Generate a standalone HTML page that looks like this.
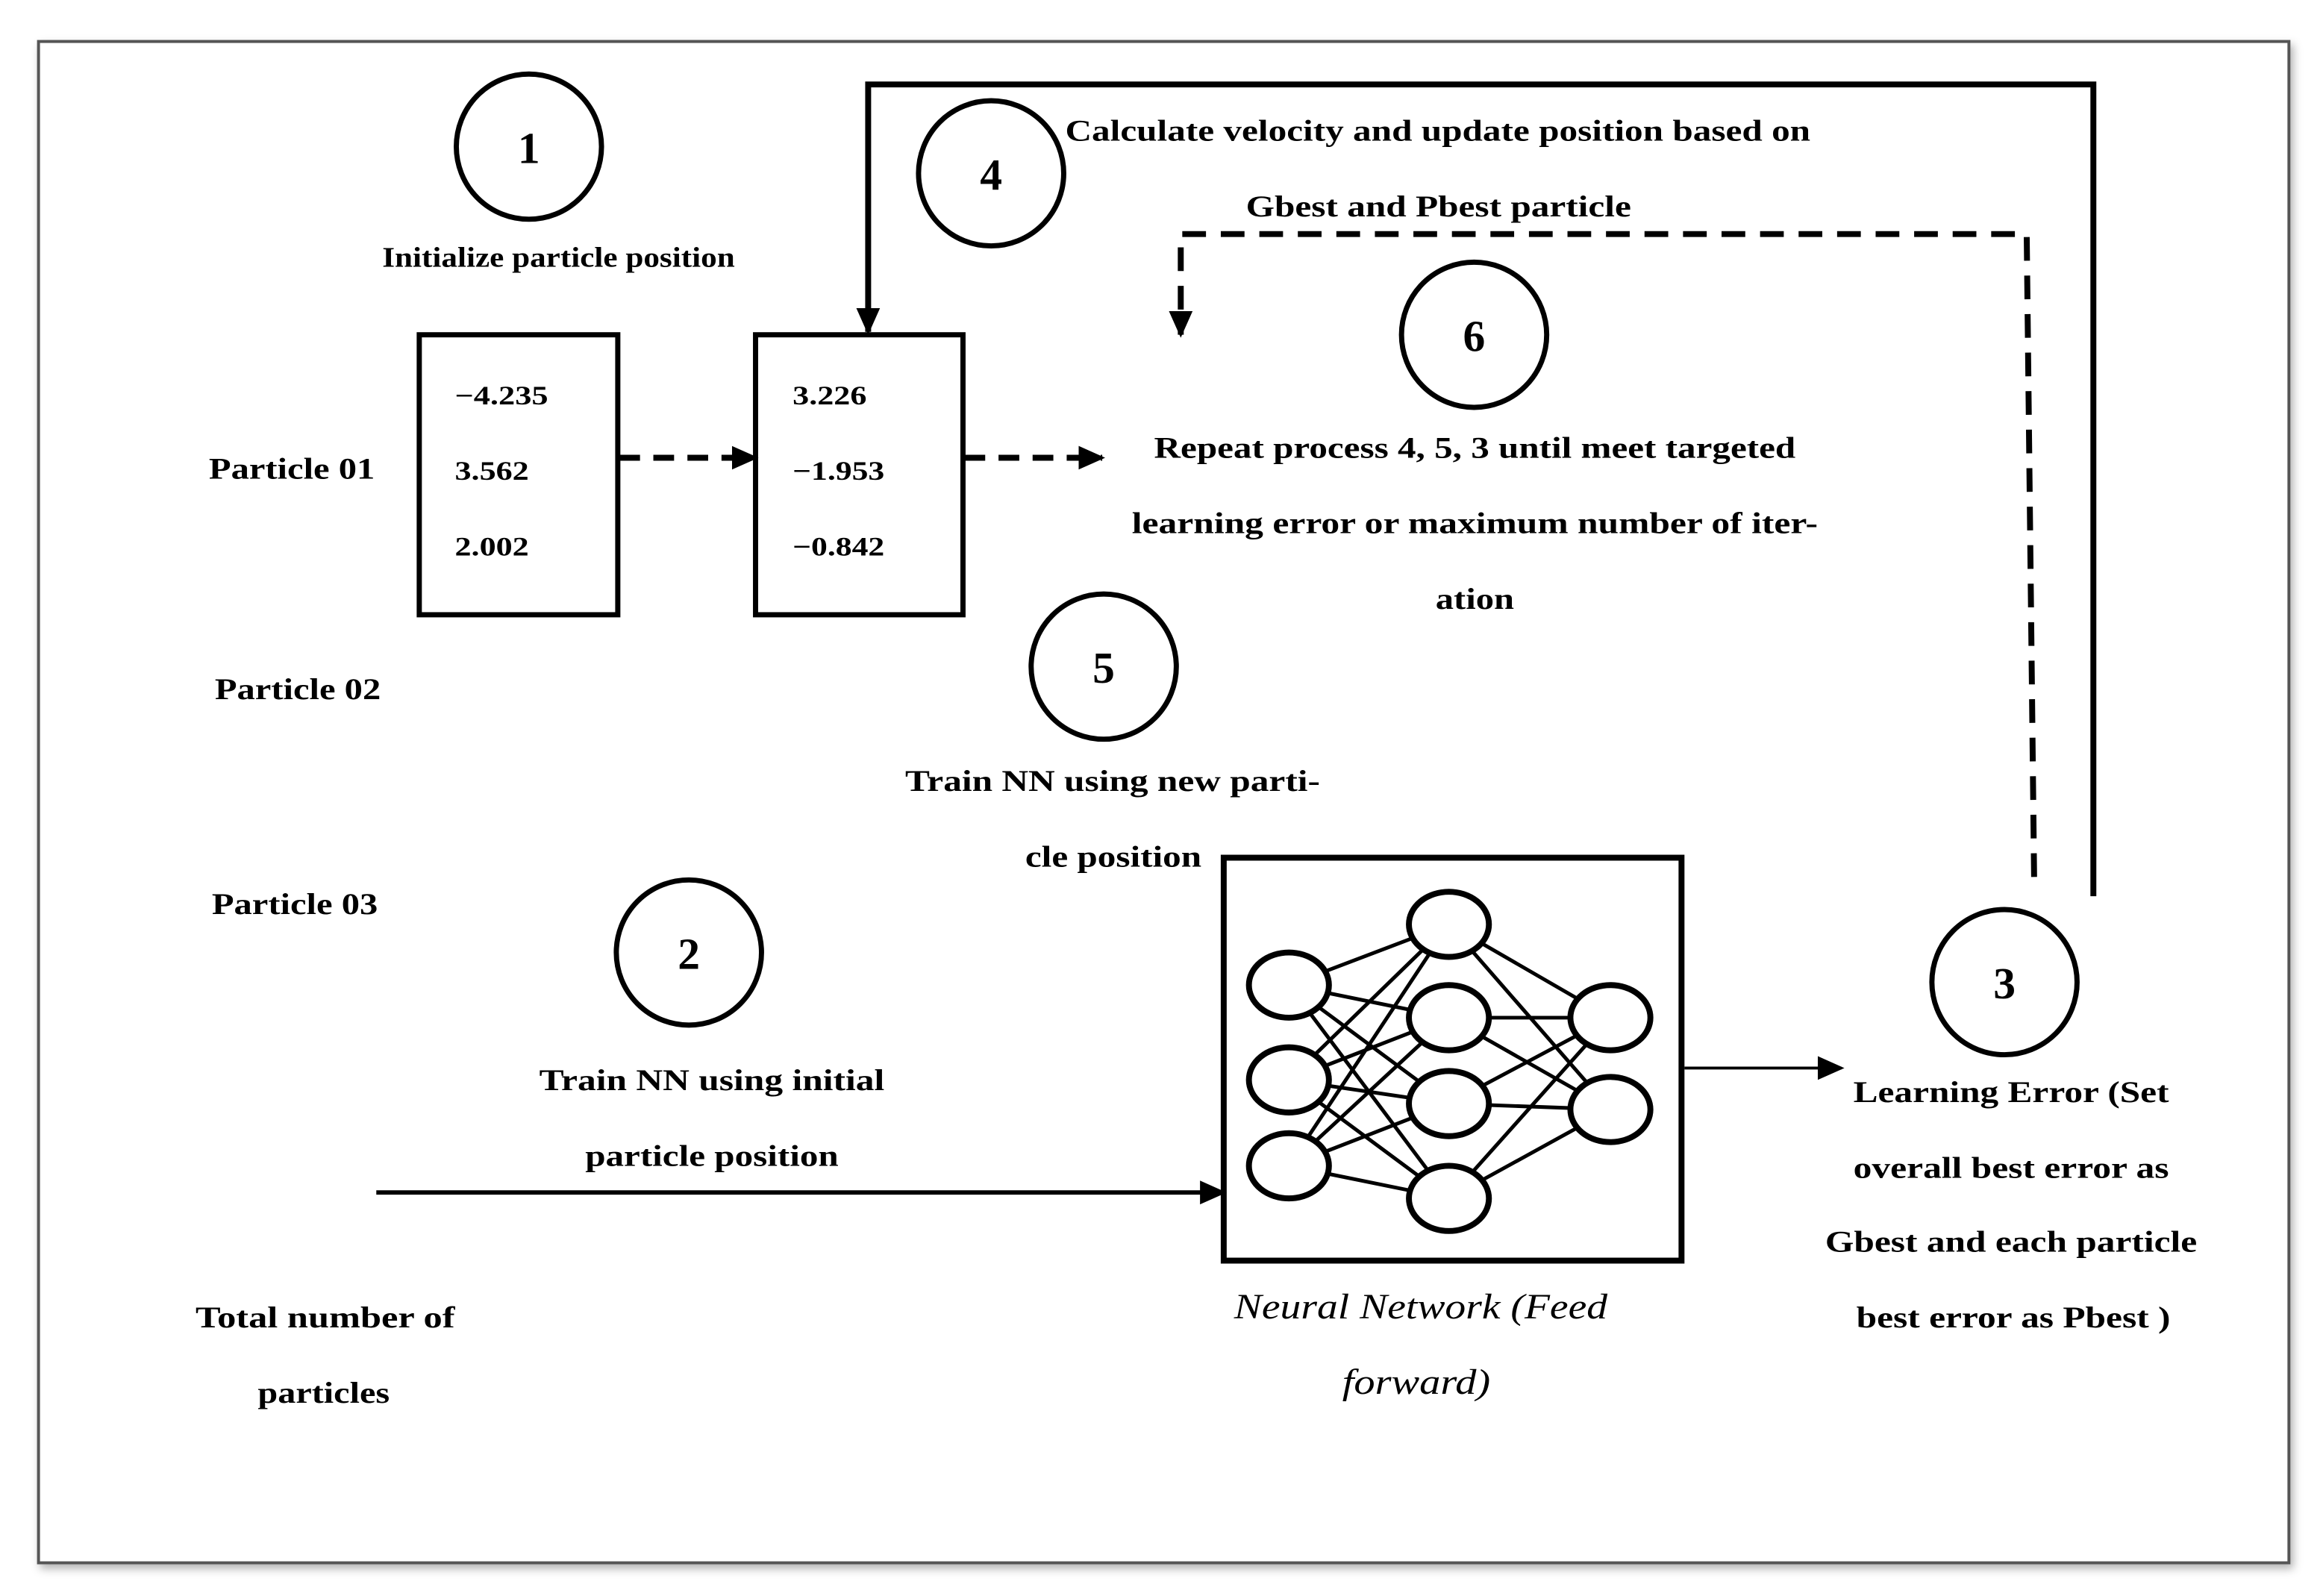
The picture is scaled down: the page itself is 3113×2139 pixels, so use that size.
<!DOCTYPE html>
<html><head><meta charset="utf-8"><style>
html,body{margin:0;padding:0;background:#fff}
svg{display:block}
text{font-family:"Liberation Serif",serif;font-weight:bold;fill:#000}
</style></head><body>
<svg width="3113" height="2139" viewBox="0 0 1568 1077.4" preserveAspectRatio="none" xmlns="http://www.w3.org/2000/svg">
<defs>
<marker id="ah2" markerWidth="18" markerHeight="18" refX="16" refY="9" orient="auto" markerUnits="userSpaceOnUse" viewBox="0 0 18 18"><path d="M0,1 L18,9 L0,17 z" fill="#000"/></marker>
<filter id="sh"><feDropShadow dx="2" dy="3" stdDeviation="3" flood-color="#000" flood-opacity="0.3"/></filter>
</defs>
<rect x="26" y="28" width="1519" height="1027" fill="#fff" stroke="#555" stroke-width="2" filter="url(#sh)"/>

<g fill="none" stroke="#000" stroke-width="3.5">
<circle cx="357" cy="99" r="49"/>
<circle cx="669" cy="117" r="49"/>
<circle cx="995" cy="226" r="49"/>
<circle cx="745" cy="450" r="49"/>
<circle cx="465" cy="643" r="49"/>
<circle cx="1353" cy="663" r="49"/>
<rect x="283" y="226" width="134" height="189"/>
<rect x="510" y="226" width="140" height="189"/>
<rect x="826" y="579" width="309" height="272" stroke-width="4"/>
</g>
<g font-size="30" text-anchor="middle">
<text x="357" y="110">1</text><text x="669" y="128">4</text><text x="995" y="237">6</text>
<text x="745" y="461">5</text><text x="465" y="654">2</text><text x="1353" y="674">3</text>
</g>

<g font-size="20" lengthAdjust="spacingAndGlyphs">
<text x="258" y="180" font-size="19" textLength="238" lengthAdjust="spacingAndGlyphs">Initialize particle position</text>
<text x="719" y="95" textLength="503" lengthAdjust="spacingAndGlyphs">Calculate velocity and update position based on</text>
<text x="841" y="146" textLength="260" lengthAdjust="spacingAndGlyphs">Gbest and Pbest particle</text>
<text x="141" y="323" textLength="112" lengthAdjust="spacingAndGlyphs">Particle 01</text>
<text x="145" y="472" textLength="112" lengthAdjust="spacingAndGlyphs">Particle 02</text>
<text x="143" y="617" textLength="112" lengthAdjust="spacingAndGlyphs">Particle 03</text>
<text x="779" y="309" textLength="433" lengthAdjust="spacingAndGlyphs">Repeat process 4, 5, 3 until meet targeted</text>
<text x="764" y="360" textLength="463" lengthAdjust="spacingAndGlyphs">learning error or maximum number of iter-</text>
<text x="969" y="411" textLength="53" lengthAdjust="spacingAndGlyphs">ation</text>
<text x="611" y="534" textLength="280" lengthAdjust="spacingAndGlyphs">Train NN using new parti-</text>
<text x="692" y="585" textLength="119" lengthAdjust="spacingAndGlyphs">cle position</text>
<text x="364" y="736" textLength="233" lengthAdjust="spacingAndGlyphs">Train NN using initial</text>
<text x="395" y="787" textLength="171" lengthAdjust="spacingAndGlyphs">particle position</text>
<text x="132" y="896" textLength="175" lengthAdjust="spacingAndGlyphs">Total number of</text>
<text x="174" y="947" textLength="89" lengthAdjust="spacingAndGlyphs">particles</text>
<text x="1251" y="744" textLength="213" lengthAdjust="spacingAndGlyphs">Learning Error (Set</text>
<text x="1251" y="795" textLength="213" lengthAdjust="spacingAndGlyphs">overall best error as</text>
<text x="1232" y="845" textLength="251" lengthAdjust="spacingAndGlyphs">Gbest and each particle</text>
<text x="1253" y="896" textLength="212" lengthAdjust="spacingAndGlyphs">best error as Pbest )</text>
</g>
<g font-size="18">
<text x="307" y="273" textLength="63" lengthAdjust="spacingAndGlyphs">−4.235</text><text x="307" y="324" textLength="50" lengthAdjust="spacingAndGlyphs">3.562</text><text x="307" y="375" textLength="50" lengthAdjust="spacingAndGlyphs">2.002</text>
<text x="535" y="273" textLength="50" lengthAdjust="spacingAndGlyphs">3.226</text><text x="535" y="324" textLength="62" lengthAdjust="spacingAndGlyphs">−1.953</text><text x="535" y="375" textLength="62" lengthAdjust="spacingAndGlyphs">−0.842</text>
</g>
<g font-size="24" font-style="italic">
<text x="833" y="890" style="font-weight:normal" textLength="252" lengthAdjust="spacingAndGlyphs">Neural Network (Feed</text>
<text x="906" y="941" style="font-weight:normal" textLength="100" lengthAdjust="spacingAndGlyphs">forward)</text>
</g>

<g fill="none" stroke="#000">
<line x1="418" y1="309" x2="510" y2="309" stroke-width="4" stroke-dasharray="14 9" marker-end="url(#ah2)"/>
<line x1="651" y1="309" x2="744" y2="309" stroke-width="4" stroke-dasharray="14 9" marker-end="url(#ah2)"/>
<line x1="254" y1="805" x2="826" y2="805" stroke-width="3" marker-end="url(#ah2)"/>
<line x1="1137" y1="721" x2="1243" y2="721" stroke-width="2" marker-end="url(#ah2)"/>
<polyline points="1413,605 1413,57 586,57 586,224" stroke-width="4" marker-end="url(#ah2)"/>
<polyline points="1373,592 1368,158 797,158 797,226" stroke-width="4" stroke-dasharray="16 10" marker-end="url(#ah2)"/>
</g>

<g stroke="#000" stroke-width="2.5">
<line x1="870" y1="665" x2="978" y2="624"/><line x1="870" y1="665" x2="978" y2="687"/><line x1="870" y1="665" x2="978" y2="745"/><line x1="870" y1="665" x2="978" y2="809"/>
<line x1="870" y1="729" x2="978" y2="624"/><line x1="870" y1="729" x2="978" y2="687"/><line x1="870" y1="729" x2="978" y2="745"/><line x1="870" y1="729" x2="978" y2="809"/>
<line x1="870" y1="787" x2="978" y2="624"/><line x1="870" y1="787" x2="978" y2="687"/><line x1="870" y1="787" x2="978" y2="745"/><line x1="870" y1="787" x2="978" y2="809"/>
<line x1="978" y1="624" x2="1087" y2="687"/><line x1="978" y1="624" x2="1087" y2="749"/>
<line x1="978" y1="687" x2="1087" y2="687"/><line x1="978" y1="687" x2="1087" y2="749"/>
<line x1="978" y1="745" x2="1087" y2="687"/><line x1="978" y1="745" x2="1087" y2="749"/>
<line x1="978" y1="809" x2="1087" y2="687"/><line x1="978" y1="809" x2="1087" y2="749"/>
</g>
<g fill="#fff" stroke="#000" stroke-width="4">
<ellipse cx="870" cy="665" rx="27" ry="22"/><ellipse cx="870" cy="729" rx="27" ry="22"/><ellipse cx="870" cy="787" rx="27" ry="22"/>
<ellipse cx="978" cy="624" rx="27" ry="22"/><ellipse cx="978" cy="687" rx="27" ry="22"/><ellipse cx="978" cy="745" rx="27" ry="22"/><ellipse cx="978" cy="809" rx="27" ry="22"/>
<ellipse cx="1087" cy="687" rx="27" ry="22"/><ellipse cx="1087" cy="749" rx="27" ry="22"/>
</g>
</svg>
</body></html>
